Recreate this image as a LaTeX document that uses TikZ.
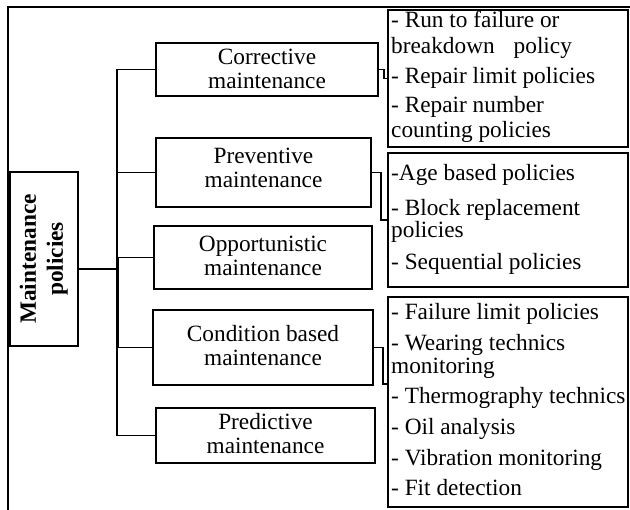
\documentclass[tikz,border=0pt]{standalone}
\usepackage{fontspec}
\usepackage{graphicx}
\setmainfont{Liberation Serif}
\begin{document}
\begin{tikzpicture}[x=1pt,y=-1pt,
  every node/.style={inner sep=0pt, font=\fontsize{23.3}{24}\selectfont},
  box/.style={draw, line width=1.8pt, align=center},
  ln/.style={line width=1.8pt},
  item/.style={anchor=base west}]
\useasboundingbox (0,0) rectangle (630,510);
\draw[ln] (8,510) -- (8,7) -- (630,7);
% main box
\node[box, minimum width=68pt, minimum height=174pt, font=\fontsize{23.3}{27}\selectfont\bfseries] (mp) at (44,259)
  {\rotatebox{90}{\begin{tabular}{@{}c@{}}Maintenance\\policies\end{tabular}}};
% middle boxes
\node[box, minimum width=222pt, minimum height=53pt, text depth=2pt] (corr) at (267,69.5) {Corrective\\maintenance};
\node[box, minimum width=215pt, minimum height=69pt, text depth=10pt] (prev) at (263.5,172.5) {Preventive\\maintenance};
\node[box, minimum width=218pt, minimum height=63pt, text depth=3pt] (opp) at (263,257.5) {Opportunistic\\maintenance};
\node[box, minimum width=220pt, minimum height=75pt, text depth=5pt] (cond) at (263,347.5) {Condition based\\maintenance};
\node[box, minimum width=219pt, minimum height=55pt, text depth=4pt] (pred) at (265.5,435.5) {Predictive\\maintenance};
% right boxes
\node[box, minimum width=240pt, minimum height=137pt] (r1) at (508,78.5) {};
\node[box, minimum width=240pt, minimum height=134pt] (r2) at (508,220) {};
\node[box, minimum width=240pt, minimum height=210pt] (r3) at (508,402) {};
% items
\node[item] (r1a) at (391,28) {- Run to failure or};
\node[item] (r1b) at (391,54) {breakdown\hspace{19pt}policy};
\node[item] (r1c) at (391,84) {- Repair limit policies};
\node[item] (r1d) at (391,113) {- Repair number};
\node[item] (r1e) at (391,138) {counting policies};
\node[item] (r2a) at (391,181) {-Age based policies};
\node[item] (r2b) at (391,216) {- Block replacement};
\node[item] (r2c) at (391,238) {policies};
\node[item] (r2d) at (391,270) {- Sequential policies};
\node[item] (r3a) at (391,320) {- Failure limit policies};
\node[item] (r3b) at (391,351) {- Wearing technics};
\node[item] (r3c) at (391,374) {monitoring};
\node[item] (r3d) at (391,404) {- Thermography technics};
\node[item] (r3e) at (391,435) {- Oil analysis};
\node[item] (r3f) at (391,466) {- Vibration monitoring};
\node[item] (r3g) at (391,496) {- Fit detection};
% connectors
\coordinate (trk) at (117,0);
\coordinate (mpy) at (0,269);
\coordinate (r3in) at (0,384);
\draw[ln] (corr.west) -- (corr.west -| trk) -- (pred.west -| trk) -- (pred.west);
\draw[ln] (prev.west) -- (prev.west -| trk);
\draw[ln] (opp.west) -- (opp.west -| trk);
\draw[ln] (cond.west) -- (cond.west -| trk);
\draw[line width=3pt] (opp.west -| trk) -- (cond.west -| trk);
\draw[line width=2.6pt] (mp.east |- mpy) -- (mpy -| trk);
\draw[ln] (corr.east) -- ++(5,0) |- (r1.west);
\draw[ln] (prev.east) -- ++(9,0) |- (r2.west);
\draw[ln] (cond.east) -- ++(9,0) |- (r3.west |- r3in);
\end{tikzpicture}
\end{document}
